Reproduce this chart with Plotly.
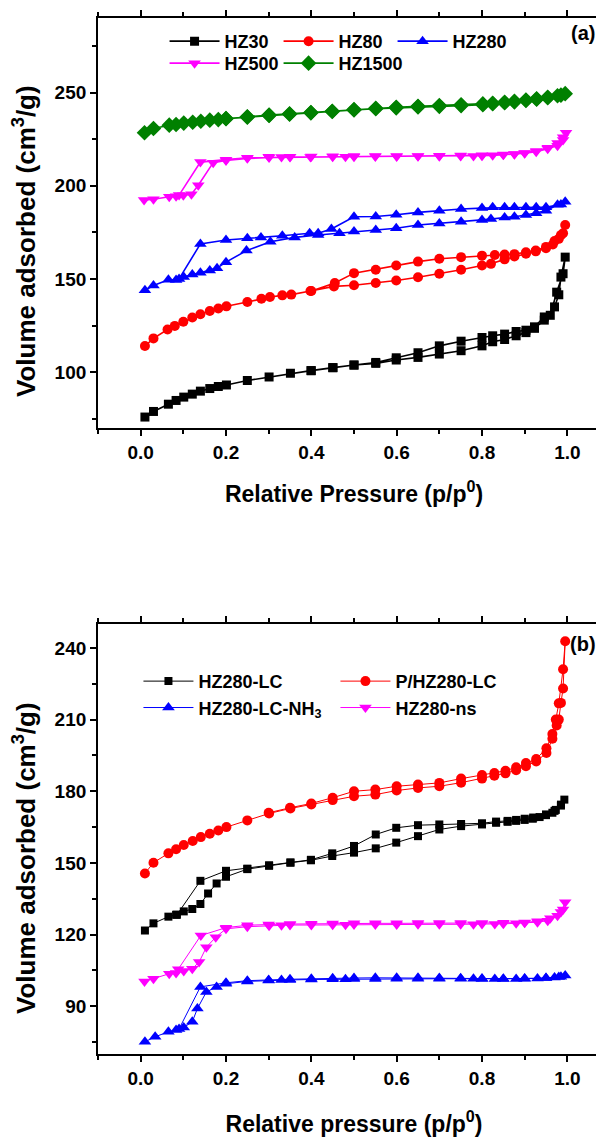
import plotly.graph_objects as go

# ---------------- (a) top panel data ----------------
hz30_p_ads = [0.01,0.03,0.065,0.083,0.101,0.121,0.14,0.162,0.182,0.201,0.25,0.301,0.351,0.399,0.451,0.5,0.551,0.599,0.65,0.70,0.751,0.80,0.825,0.853,0.88,0.903,0.923,0.946,0.97,0.98,0.985,0.995]
hz30_v_ads = [75.9,78.9,82.8,84.8,86.6,88.2,89.8,91.2,92.3,93.1,95.5,97.4,99.4,100.8,102.4,103.8,104.7,106.5,107.9,109.7,111.5,114.1,116.3,117.5,119.5,121.2,123.5,127.9,135.0,141.5,151.0,161.7]
hz30_p_des = [0.99,0.975,0.96,0.946,0.923,0.903,0.88,0.853,0.825,0.80,0.751,0.70,0.65,0.599,0.551,0.50,0.45,0.40]
hz30_v_des = [152.8,142.9,130.5,129.6,124.3,122.5,121.8,120.4,119.5,118.6,116.6,114.1,110.4,107.7,105.2,103.8,102.4,100.8]

hz80_p_ads = [0.01,0.03,0.063,0.08,0.1,0.121,0.14,0.162,0.182,0.201,0.25,0.283,0.303,0.332,0.353,0.398,0.453,0.5,0.551,0.599,0.65,0.70,0.751,0.80,0.821,0.853,0.876,0.903,0.926,0.95,0.966,0.98,0.99,0.995]
hz80_v_ads = [114.0,118.1,122.9,124.8,127.0,129.3,131.1,132.8,134.1,135.3,137.6,139.4,140.3,141.2,141.6,143.5,146.0,146.6,147.8,149.2,150.9,152.8,154.9,157.2,158.1,160.5,162.0,163.5,164.8,166.5,168.5,171.5,174.5,178.9]
hz80_p_des = [0.985,0.97,0.95,0.926,0.903,0.876,0.853,0.83,0.80,0.751,0.70,0.65,0.599,0.551,0.50,0.455,0.40]
hz80_v_des = [173.5,170.3,167.2,165.3,164.3,163.3,163.1,162.8,162.5,161.7,160.8,159.3,157.2,154.9,153.1,147.8,143.5]

hz280_p_ads = [0.01,0.03,0.065,0.083,0.101,0.121,0.14,0.162,0.179,0.2,0.248,0.304,0.361,0.416,0.466,0.5,0.551,0.599,0.65,0.70,0.751,0.80,0.821,0.853,0.876,0.903,0.927,0.95,0.977,0.995]
hz280_v_ads = [143.9,146.5,149.6,149.4,151.0,152.4,153.3,154.5,155.8,159.0,165.2,170.0,172.3,173.6,174.5,175.4,176.3,177.2,178.9,179.8,180.7,181.6,182.1,183.0,183.4,184.3,185.3,186.6,189.8,191.4]
hz280_p_des = [0.985,0.95,0.927,0.903,0.876,0.853,0.825,0.80,0.751,0.70,0.65,0.599,0.551,0.50,0.447,0.416,0.396,0.332,0.282,0.25,0.2,0.14,0.09]
hz280_v_des = [190.0,188.4,188.4,188.4,188.4,188.4,188.4,188.0,187.5,186.6,185.7,184.4,183.5,183.4,176.8,174.5,174.5,173.2,172.3,171.8,170.9,168.8,150.0]

hz500_p_ads = [0.008,0.03,0.067,0.083,0.1,0.119,0.135,0.17,0.2,0.25,0.301,0.33,0.35,0.398,0.45,0.48,0.5,0.55,0.6,0.65,0.7,0.75,0.78,0.8,0.825,0.85,0.876,0.9,0.927,0.954,0.977,0.99,0.997]
hz500_v_ads = [192.3,192.8,194.1,194.4,194.9,195.5,200.3,212.4,213.6,214.7,215.2,215.4,215.4,215.4,215.5,215.6,215.6,215.7,215.7,215.8,215.8,215.9,216.0,216.1,216.3,216.6,216.9,217.5,218.3,219.8,221.5,224.5,228.4]
hz500_p_des = [0.99,0.977,0.954,0.927,0.9,0.876,0.85,0.8,0.75,0.7,0.65,0.6,0.55,0.5,0.45,0.4,0.35,0.3,0.25,0.2,0.14,0.09]
hz500_v_des = [226.0,223.0,220.4,218.6,217.6,217.1,216.8,216.4,216.2,216.1,216.0,216.0,215.9,215.9,215.8,215.7,215.6,215.5,215.0,214.0,212.7,195.0]

hz1500_p_ads = [0.009,0.03,0.067,0.083,0.101,0.122,0.141,0.162,0.182,0.2,0.25,0.301,0.349,0.399,0.449,0.5,0.551,0.599,0.65,0.70,0.751,0.802,0.825,0.853,0.876,0.903,0.928,0.954,0.977,0.995]
hz1500_v_ads = [228.4,230.7,232.5,232.9,233.6,234.1,234.6,235.2,235.5,236.1,237.0,237.9,238.6,239.3,240.0,240.9,241.6,242.1,242.6,243.0,243.4,243.9,244.3,244.8,245.3,246.0,246.7,247.5,248.3,249.4]
hz1500_p_des = [0.985,0.954,0.928,0.903,0.876,0.853,0.825,0.802,0.751,0.70,0.65,0.599,0.551,0.5,0.449,0.399,0.349,0.301,0.25,0.2]
hz1500_v_des = [248.6,247.2,246.4,245.7,245.0,244.5,244.0,243.5,243.0,242.6,242.3,241.8,241.3,240.6,239.8,239.1,238.4,237.7,236.8,236.0]

# ---------------- (b) bottom panel data ----------------
lc_p_ads = [0.01,0.03,0.065,0.083,0.101,0.121,0.14,0.158,0.178,0.2,0.25,0.301,0.351,0.399,0.449,0.5,0.551,0.599,0.65,0.70,0.751,0.80,0.833,0.86,0.88,0.9,0.919,0.935,0.95,0.965,0.973,0.985,0.993]
lc_v_ads = [121.7,124.7,127.5,128.3,129.7,130.7,132.8,137.2,141.4,144.2,147.4,148.8,150.1,151.1,152.9,154.3,156.1,158.5,161.2,164.0,165.4,166.1,166.8,167.2,167.6,168.0,168.5,169.2,170.0,171.0,172.2,174.4,176.5]
lc_p_des = [0.985,0.97,0.95,0.92,0.9,0.88,0.86,0.833,0.80,0.751,0.70,0.65,0.599,0.551,0.5,0.449,0.399,0.351,0.301,0.25,0.2,0.14,0.085]
lc_v_des = [174.0,171.8,170.3,169.0,168.5,168.0,167.6,167.3,166.6,166.3,166.1,165.8,164.7,161.9,157.1,154.0,151.3,150.2,149.0,147.6,146.7,142.5,128.3]

plc_p_ads = [0.01,0.03,0.065,0.083,0.101,0.122,0.141,0.162,0.182,0.201,0.25,0.301,0.351,0.4,0.45,0.5,0.55,0.6,0.65,0.7,0.751,0.8,0.829,0.855,0.88,0.903,0.927,0.951,0.965,0.975,0.98,0.985,0.99,0.995]
plc_v_ads = [145.6,150.1,154.0,155.7,157.5,159.2,160.8,162.2,163.6,165.0,167.8,170.7,172.8,174.5,176.3,177.9,178.6,180.3,181.4,182.1,183.6,185.3,186.5,187.5,188.8,190.5,192.5,196.0,202.0,207.5,210.0,217.0,223.0,242.8]
plc_p_des = [0.99,0.98,0.973,0.965,0.951,0.927,0.903,0.88,0.855,0.829,0.8,0.751,0.7,0.65,0.6,0.55,0.5,0.45,0.4,0.35,0.3]
plc_v_des = [231.1,216.8,210.0,204.0,198.0,193.5,191.8,190.0,188.6,187.6,186.8,185.3,183.5,182.8,182.1,180.7,180.0,177.3,174.9,173.1,171.0]

nh3_p_ads = [0.01,0.034,0.065,0.083,0.101,0.121,0.133,0.154,0.178,0.2,0.25,0.3,0.33,0.35,0.4,0.45,0.48,0.5,0.55,0.6,0.65,0.7,0.75,0.78,0.8,0.83,0.85,0.88,0.9,0.93,0.95,0.97,0.985,0.995]
nh3_v_ads = [75.1,77.2,79.3,80.0,81.1,83.5,89.0,96.0,98.1,99.4,100.4,100.8,101.0,101.0,101.2,101.3,101.3,101.4,101.4,101.5,101.5,101.5,101.5,101.5,101.4,101.4,101.4,101.4,101.5,101.6,101.8,102.0,102.3,102.9]
nh3_p_des = [0.98,0.95,0.9,0.85,0.8,0.75,0.7,0.65,0.6,0.55,0.5,0.45,0.4,0.35,0.3,0.25,0.2,0.14,0.09]
nh3_v_des = [102.2,101.8,101.6,101.5,101.6,101.7,101.8,101.9,101.9,101.9,101.8,101.7,101.5,101.3,101.0,100.7,99.8,98.1,80.5]

ns_p_ads = [0.009,0.03,0.067,0.083,0.101,0.121,0.137,0.154,0.176,0.2,0.25,0.301,0.33,0.35,0.4,0.45,0.48,0.5,0.55,0.6,0.65,0.7,0.75,0.78,0.8,0.83,0.85,0.88,0.9,0.93,0.954,0.977,0.99,0.995]
ns_v_ads = [100.4,101.5,103.6,103.9,104.7,105.7,108.5,114.7,118.9,122.4,123.3,123.7,123.9,124.0,124.0,124.1,124.1,124.2,124.2,124.2,124.3,124.3,124.3,124.3,124.4,124.4,124.5,124.7,124.9,125.2,125.8,127.9,130.5,133.5]
ns_p_des = [0.985,0.96,0.93,0.9,0.85,0.8,0.75,0.7,0.65,0.6,0.55,0.5,0.45,0.4,0.35,0.3,0.25,0.2,0.141,0.088]
ns_v_des = [129.5,126.8,125.6,125.1,124.9,124.8,124.8,124.8,124.8,124.7,124.7,124.7,124.6,124.5,124.4,124.2,123.9,122.9,119.6,105.5]

FONT = "Liberation Sans, Arial, sans-serif"

fig = go.Figure()

def add(pa, va, pd, vd, name, color, symbol, size, lw, xa, ya, leg, lwidth=None):
    fig.add_trace(go.Scatter(
        x=pa + pd, y=va + vd, mode="lines+markers", name=name,
        line=dict(color=color, width=lw),
        marker=dict(symbol=symbol, size=size, color=color, line=dict(width=0)),
        xaxis=xa, yaxis=ya, legend=leg, legendwidth=lwidth))

# top panel (x2/y2)
add(hz30_p_ads, hz30_v_ads, hz30_p_des, hz30_v_des, "HZ30", "#000000", "square", 9, 1.6, "x2", "y2", "legend")
add(hz80_p_ads, hz80_v_ads, hz80_p_des, hz80_v_des, "HZ80", "#FF0000", "circle", 10, 1.6, "x2", "y2", "legend")
add(hz280_p_ads, hz280_v_ads, hz280_p_des, hz280_v_des, "HZ280", "#0000FF", "triangle-up", 11, 1.6, "x2", "y2", "legend", 62)
add(hz500_p_ads, hz500_v_ads, hz500_p_des, hz500_v_des, "HZ500", "#FF00FF", "triangle-down", 11, 1.6, "x2", "y2", "legend3")
add(hz1500_p_ads, hz1500_v_ads, hz1500_p_des, hz1500_v_des, "HZ1500", "#008000", "diamond", 12, 1.6, "x2", "y2", "legend3", 72)

# bottom panel (x/y)
add(lc_p_ads, lc_v_ads, lc_p_des, lc_v_des, "HZ280-LC", "#000000", "square", 8, 1, "x", "y", "legend2")
add(plc_p_ads, plc_v_ads, plc_p_des, plc_v_des, "P/HZ280-LC", "#FF0000", "circle", 10, 1, "x", "y", "legend2")
add(nh3_p_ads, nh3_v_ads, nh3_p_des, nh3_v_des, "HZ280-LC-NH<sub>3</sub>", "#0000FF", "triangle-up", 11, 1, "x", "y", "legend4")
add(ns_p_ads, ns_v_ads, ns_p_des, ns_v_des, "HZ280-ns", "#FF00FF", "triangle-down", 11, 1, "x", "y", "legend4")

tickfont = dict(family=FONT, size=19, color="black", weight="bold")
xtitlefont = dict(family=FONT, size=23, color="black", weight="bold")
ytitlefont = dict(family=FONT, size=26, color="black", weight="bold")
legfont = dict(family=FONT, size=18, color="black", weight="bold")

def xax(anchor, title, standoff):
    return dict(range=[-0.1, 1.1], dtick=0.2, tick0=0, tickformat=".1f",
                ticks="outside", ticklen=6, tickwidth=1.5, tickcolor="black",
                minor=dict(dtick=0.1, ticks="outside", ticklen=4, tickwidth=1.5, tickcolor="black"),
                showline=True, linewidth=1.8, linecolor="black", mirror="ticks",
                showgrid=False, zeroline=False, tickfont=tickfont,
                anchor=anchor,
                title=dict(text=title, font=xtitlefont, standoff=standoff))

def yax(domain, rng, dt, mdt, anchor):
    return dict(domain=domain, range=rng, dtick=dt, tick0=0,
                ticks="outside", ticklen=6, tickwidth=1.5, tickcolor="black",
                minor=dict(dtick=mdt, ticks="outside", ticklen=4, tickwidth=1.5, tickcolor="black"),
                showline=True, linewidth=1.8, linecolor="black", mirror=False,
                showgrid=False, zeroline=False, tickfont=tickfont, anchor=anchor)

def leg(x, y, ew, iw):
    return dict(orientation="h", x=x, y=y, xanchor="left", yanchor="top",
                entrywidth=ew, entrywidthmode="pixels", itemwidth=iw,
                font=legfont, bgcolor="rgba(0,0,0,0)", borderwidth=0)

# page body adds an 8px offset; margins compensate so the plot lands where the reference has it
fig.update_layout(
    width=604, height=1137,
    margin=dict(l=90, r=2, t=5, b=91),
    paper_bgcolor="white", plot_bgcolor="white",
    font=dict(family=FONT, color="black"),
    xaxis=xax("y", "Relative pressure (p/p<sup>0</sup>)", 28),
    xaxis2=xax("y2", "Relative Pressure (p/p<sup>0</sup>)", 24),
    yaxis=yax([0, 0.415], [70, 250], 30, 15, "x"),
    yaxis2=yax([0.6042, 1], [70, 290], 50, 25, "x2"),
    legend=leg(0.130, 0.9952, 49, 50),
    legend3=leg(0.130, 0.9740, 49, 50),
    legend2=leg(0.079, 0.3775, 132, 50),
    legend4=leg(0.079, 0.3520, 132, 50),
    showlegend=True,
    annotations=[
        dict(text="Volume adsorbed (cm<sup>3</sup>/g)", xref="paper", yref="paper",
             x=-0.1426, y=0.7848, xanchor="center", yanchor="middle",
             textangle=-90, showarrow=False, font=ytitlefont),
        dict(text="Volume adsorbed (cm<sup>3</sup>/g)", xref="paper", yref="paper",
             x=-0.1426, y=0.1892, xanchor="center", yanchor="middle",
             textangle=-90, showarrow=False, font=ytitlefont),
        dict(text="(a)", xref="paper", yref="paper", x=0.9473, y=0.9856,
             xanchor="center", yanchor="middle", showarrow=False,
             font=dict(family=FONT, size=20, color="black", weight="bold")),
        dict(text="(b)", xref="paper", yref="paper", x=0.9473, y=0.3958,
             xanchor="center", yanchor="middle", showarrow=False,
             font=dict(family=FONT, size=20, color="black", weight="bold")),
    ],
)

fig.write_html("out.html")
